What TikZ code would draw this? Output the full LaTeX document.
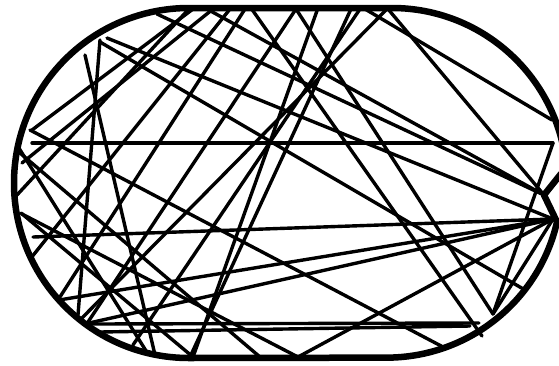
\documentclass[tikz,border=0pt]{standalone}
\usepackage{tikz}
\begin{document}
\begin{tikzpicture}[x=1pt, y=-1pt,
  rim/.style={line width=6.5pt, line join=round},
  chord/.style={line width=3.4pt, line cap=round}
]
\useasboundingbox (0,0) rectangle (559,365);
\clip (0,0) rectangle (559,365);

% bounce points that several paths share
\coordinate (notch) at (544,195);
\coordinate (fan) at (553,219);
\coordinate (vbot) at (298,357);
\coordinate (hright) at (553,143);
\coordinate (lbot) at (193,357);
\coordinate (rlow) at (493,314);

% the wall
\draw[rim] (189,8) -- (392,8) arc[start angle=-90, end angle=-5, radius=175]
  -- (560,175) -- (544,195) -- (557,222)
  arc[start angle=13, end angle=90, radius=175] -- (189,358)
  arc[start angle=90, end angle=270, radius=175] -- cycle;

% the path of the ball
\draw[chord] (32,143) -- (hright);
\draw[chord] (33,237) -- (fan);
\draw[chord] (92,324) -- (479,323);
\draw[chord] (100,332) -- (470,326);
\draw[chord] (vbot) -- (fan);
\draw[chord] (vbot) -- (22,214);
\draw[chord] (388,9) -- (notch);
\draw[chord] (207,9) -- (notch);
\draw[chord] (157,14) -- (notch);
\draw[chord] (365,9) -- (552,120);
\draw[chord] (387,9) -- (80,320);
\draw[chord] (251,8) -- (482,336);
\draw[chord] (296,9) -- (88,322);
\draw[chord] (296,9) -- (rlow);
\draw[chord] (32,130) -- (193,9);
\draw[chord] (85,55) -- (155,355);
\draw[chord] (100,40) -- (78,315);
\draw[chord] (59,300) -- (fan);
\draw[chord] (89,323) -- (fan);
\draw[chord] (107,38) -- (fan);
\draw[chord] (100,42) -- (525,290);
\draw[chord] (187,11) -- (17,195);
\draw[chord] (213,9) -- (22,163);
\draw[chord] (230,9) -- (31,258);
\draw[chord] (245,9) -- (58,300);
\draw[chord] (360,9) -- (133,345);
\draw[chord] (lbot) -- (21,213);
\draw[chord] (lbot) -- (318,8);
\draw[chord] (190,357) -- (351,9);
\draw[chord] (30,130) -- (445,348);
\draw[chord] (20,153) -- (260,357);
\draw[chord] (17,145) -- (148,354);
\draw[chord] (hright) -- (rlow);
\draw[chord] (fan) -- (rlow);
\end{tikzpicture}
\end{document}
